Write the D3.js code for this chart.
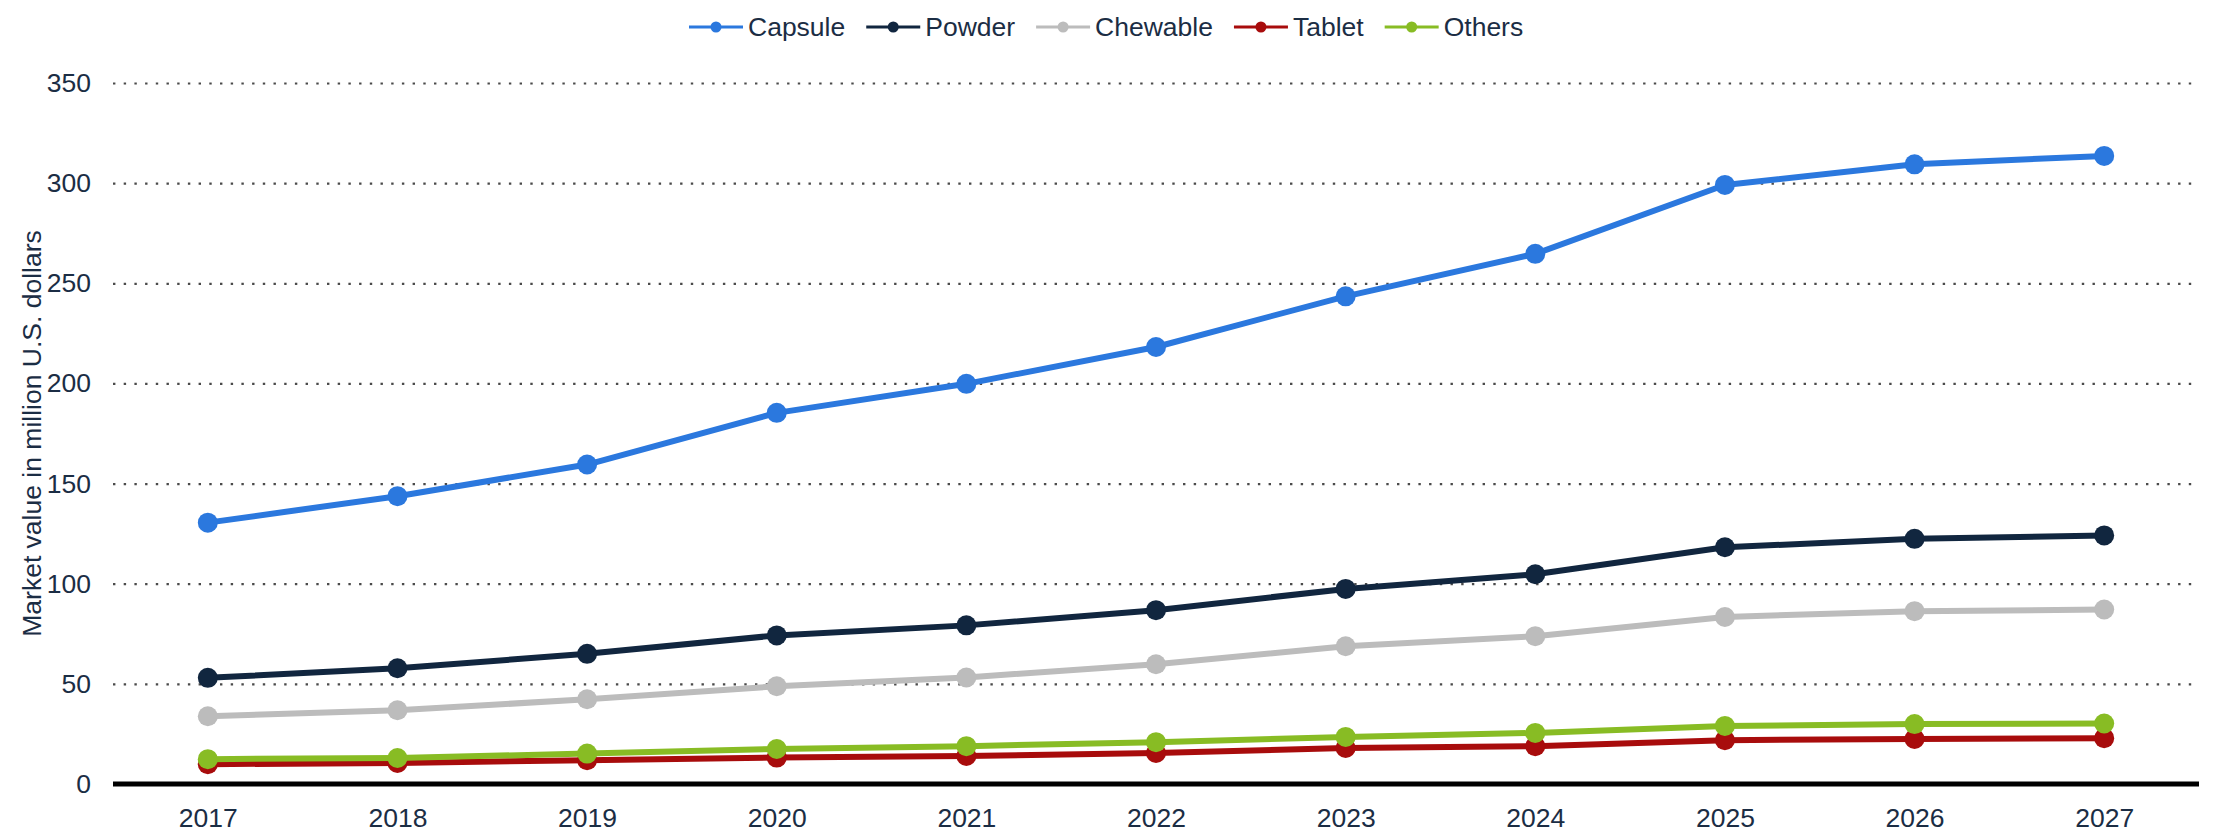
<!DOCTYPE html>
<html>
<head>
<meta charset="utf-8">
<script src="https://cdn.jsdelivr.net/npm/d3@7"></script>
<style>
  html, body { margin: 0; padding: 0; background: #ffffff; }
  svg { display: block; font-family: "Liberation Sans", Arial, sans-serif; }
</style>
</head>
<body>
<svg id="chart" width="2217" height="837"></svg>
<script>
// Market value by dosage form, 2017–2027 (million U.S. dollars)
const years = ["2017", "2018", "2019", "2020", "2021", "2022", "2023", "2024", "2025", "2026", "2027"];
const capsule  = [130.5, 143.7, 159.5, 185.3, 199.8, 218.2, 243.5, 264.7, 299.1, 309.4, 313.6];
const powder   = [53.0, 57.8, 65.0, 74.2, 79.2, 86.8, 97.4, 104.7, 118.2, 122.4, 124.1];
const chewable = [33.8, 36.8, 42.3, 48.8, 53.2, 59.8, 68.8, 73.8, 83.4, 86.3, 87.1];
const tablet   = [9.9, 10.5, 11.9, 13.2, 14.0, 15.5, 18.0, 18.9, 21.9, 22.5, 22.9];
const others   = [12.4, 13.0, 15.2, 17.5, 18.9, 20.9, 23.5, 25.5, 29.0, 29.9, 30.2];
const yTicks   = [0, 50, 100, 150, 200, 250, 300, 350];
const yTitle   = "Market value in million U.S. dollars";

const series = [
  { name: "Capsule",  values: capsule,  color: "#2b78de" },
  { name: "Powder",   values: powder,   color: "#11263f" },
  { name: "Chewable", values: chewable, color: "#bcbcbc" },
  { name: "Tablet",   values: tablet,   color: "#a80c0c" },
  { name: "Others",   values: others,   color: "#88bc24" }
];

const textColor = "#1b2d44";
const fontSize = 26.5;

const svg = d3.select("#chart");
const margin = { top: 83, right: 18, bottom: 53, left: 113 };
const W = +svg.attr("width"), H = +svg.attr("height");

const x = d3.scalePoint().domain(years).range([margin.left, W - margin.right]).padding(0.5);
const y = d3.scaleLinear().domain([0, 350]).range([H - margin.bottom, margin.top]);

// Dotted horizontal gridlines
svg.append("g")
  .attr("transform", `translate(${margin.left},0)`)
  .call(d3.axisLeft(y).tickValues(yTicks.filter(d => d > 0)).tickSize(-(W - margin.left - margin.right)).tickFormat(""))
  .call(g => g.select(".domain").remove())
  .call(g => g.selectAll(".tick line")
    .attr("stroke", "#4a4a4a")
    .attr("stroke-width", 2.2)
    .attr("stroke-dasharray", "2.4,8.3"));

// Y tick labels
svg.append("g")
  .attr("transform", `translate(${margin.left},0)`)
  .call(d3.axisLeft(y).tickValues(yTicks).tickSize(0).tickPadding(22))
  .call(g => g.select(".domain").remove())
  .call(g => g.selectAll("text")
    .attr("fill", textColor)
    .attr("font-size", fontSize)
    .attr("font-family", "Liberation Sans, Arial, sans-serif"));

// X tick labels
svg.append("g")
  .attr("transform", `translate(0,${H - margin.bottom})`)
  .call(d3.axisBottom(x).tickSize(0).tickPadding(24))
  .call(g => g.select(".domain").remove())
  .call(g => g.selectAll("text")
    .attr("fill", textColor)
    .attr("font-size", fontSize)
    .attr("font-family", "Liberation Sans, Arial, sans-serif"));

// Y axis title
svg.append("text")
  .attr("transform", `translate(41,${(margin.top + H - margin.bottom) / 2}) rotate(-90)`)
  .attr("text-anchor", "middle")
  .attr("fill", textColor)
  .attr("font-size", fontSize)
  .text(yTitle);

// Lines and markers
const line = d3.line()
  .x((d, i) => x(years[i]))
  .y(d => y(d));

const seriesG = svg.append("g");
series.forEach(s => {
  const g = seriesG.append("g");
  g.append("path")
    .datum(s.values)
    .attr("fill", "none")
    .attr("stroke", s.color)
    .attr("stroke-width", 6)
    .attr("stroke-linejoin", "round")
    .attr("d", line);
  g.selectAll("circle")
    .data(s.values)
    .join("circle")
    .attr("cx", (d, i) => x(years[i]))
    .attr("cy", d => y(d))
    .attr("r", 10)
    .attr("fill", s.color);
});

// Baseline
svg.append("line")
  .attr("x1", margin.left).attr("x2", W - margin.right)
  .attr("y1", y(0)).attr("y2", y(0))
  .attr("stroke", "#000000")
  .attr("stroke-width", 5);

// Legend
const legend = svg.append("g");
let lx = 689;
const ly = 27;
series.forEach(s => {
  const item = legend.append("g");
  item.append("line")
    .attr("x1", lx).attr("x2", lx + 54)
    .attr("y1", ly).attr("y2", ly)
    .attr("stroke", s.color).attr("stroke-width", 3);
  item.append("circle")
    .attr("cx", lx + 27).attr("cy", ly).attr("r", 5.5)
    .attr("fill", s.color);
  const t = item.append("text")
    .attr("x", lx + 59).attr("y", ly + 9)
    .attr("fill", textColor)
    .attr("font-size", fontSize)
    .text(s.name);
  lx += 59 + t.node().getComputedTextLength() + 21;
});
</script>
</body>
</html>
